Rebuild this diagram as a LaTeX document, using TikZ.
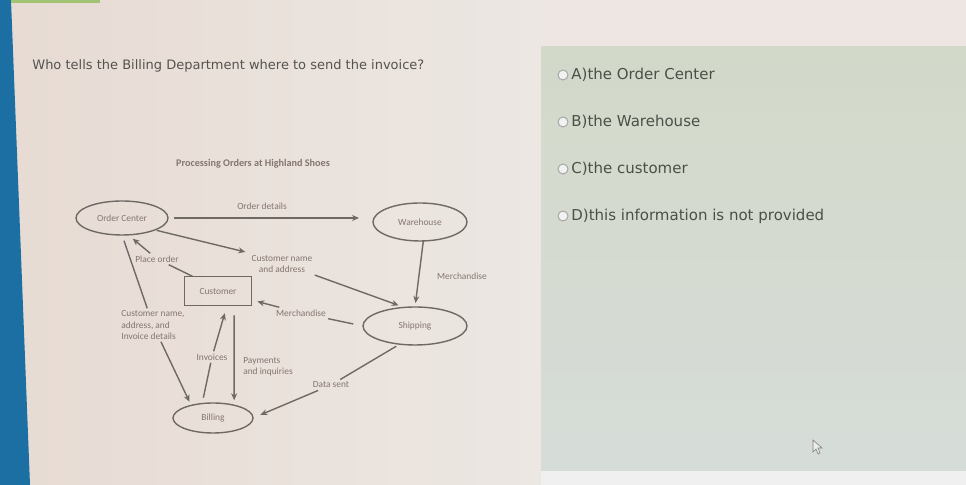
\documentclass[tikz,border=0pt]{standalone}
\usepackage{fontspec}
\setmainfont{DejaVu Sans}
\newfontfamily\diagfont{Carlito}
\usetikzlibrary{shapes.geometric,arrows.meta}

\definecolor{paperl}{HTML}{E7DBD3}
\definecolor{paperr}{HTML}{ECE7E3}
\definecolor{toppaper}{HTML}{EDE6E3}
\definecolor{paneltop}{HTML}{D3D9C9}
\definecolor{panelbot}{HTML}{D6DCD8}
\definecolor{deskblue}{HTML}{1C6FA3}
\definecolor{tabgreen}{HTML}{A3C374}
\definecolor{lineclr}{HTML}{6F6965}
\definecolor{textclr}{HTML}{85766F}
\definecolor{qtext}{HTML}{55524F}
\definecolor{atext}{HTML}{4B4F48}

\begin{document}
\begin{tikzpicture}[x=0.5pt,y=-0.5pt,
  bubble/.style={ellipse, draw=lineclr, line width=0.7pt, inner sep=0pt, outer sep=0pt,
    font=\diagfont\fontsize{4.7}{5.6}\selectfont, text=textclr},
  box/.style={rectangle, draw=lineclr, line width=0.7pt, inner sep=0pt, outer sep=0pt,
    minimum width=33.5pt, minimum height=14.5pt, font=\diagfont\fontsize{4.7}{5.6}\selectfont, text=textclr},
  lbl/.style={inner sep=1pt, align=center, font=\diagfont\fontsize{4.7}{5.6}\selectfont, text=textclr},
  link/.style={draw=lineclr, line width=0.7pt},
  flow/.style={link, -{Stealth[length=3.5pt,width=3pt]}},
  radio/.style={circle, draw=gray!70, fill=white!90!gray, line width=0.5pt, minimum size=5pt, inner sep=0pt},
  answer/.style={anchor=west, inner sep=0pt, font=\fontsize{7.5}{9}\selectfont, text=atext}]

\useasboundingbox (0,0) rectangle (966,485);

% screen background
\shade[left color=paperl, right color=paperr] (0,0) rectangle (541,485);
\fill[toppaper] (541,0) rectangle (966,47);
\shade[top color=paneltop, bottom color=panelbot] (541,47) rectangle (966,471);
\fill[white!88!gray] (541,471) rectangle (966,485);
\fill[deskblue] (0,0) -- (11,0) -- (30,485) -- (0,485) -- cycle;
\fill[tabgreen] (11,0) rectangle (100,3);

% question
\node[anchor=west, inner sep=0pt, font=\fontsize{6.5}{8}\selectfont, text=qtext] (question) at (32,66)
  {Who tells the Billing Department where to send the invoice?};

% diagram
\node[lbl, font=\diagfont\bfseries\fontsize{5.1}{6}\selectfont] (title) at (253,164) {Processing Orders at Highland Shoes};

\node[bubble, minimum width=46pt, minimum height=17pt] (oc) at (122,218) {Order Center};
\node[bubble, minimum width=47pt, minimum height=19pt] (wh) at (420,222) {Warehouse};
\node[bubble, minimum width=52pt, minimum height=19pt] (sh) at (415,326) {Shipping};
\node[bubble, minimum width=40pt, minimum height=15pt] (bill) at (213,418) {Billing};
\node[box] (cust) at (218,291) {Customer};

\node[lbl] (odetails) at (262,206) {Order details};
\node[lbl] (cname) at (282,264) {Customer name\\and address};
\node[lbl] (merch1) at (462,276) {Merchandise};
\node[lbl] (porder) at (157,259) {Place order};
\node[lbl, align=left] (cinfo) at (153,325) {Customer name,\\address, and\\Invoice details};
\node[lbl] (invoices) at (212,357) {Invoices};
\node[lbl, align=left] (payinq) at (268,367) {Payments\\and inquiries};
\node[lbl] (merch2) at (301,313) {Merchandise};
\node[lbl] (dsent) at (331,385) {Data sent};

\draw[flow, shorten <=3pt, shorten >=7pt] (oc.east) -- (oc.east -| wh.west);
\draw[flow, shorten >=2pt] (wh.-80) -- (sh.north);
\draw[flow, shorten <=1pt, shorten >=2pt] (oc.-20) -- (cname.north west);
\draw[flow, shorten >=3pt] (cname.south east) -- (sh.120);
\draw[link] (cust.150) -- (porder);
\draw[flow, shorten >=3pt] (porder) -- (oc.-70);
\draw[link, shorten <=3pt] (oc.south) -- (cinfo);
\draw[flow, shorten >=2pt] (cinfo) -- (bill.150);
\draw[link, shorten <=3pt] (bill.127) -- (invoices);
\draw[flow, shorten >=4pt] (invoices) -- (cust.-58);
\draw[flow, shorten <=5pt, shorten >=2.5pt] (cust.-42) -- (bill.31);
\draw[link, shorten <=5pt] (sh.west) -- (merch2);
\draw[flow, shorten >=3pt] (merch2) -- (cust.-15);
\draw[link, shorten <=2pt] (sh.-130) -- (dsent);
\draw[flow, shorten >=4pt] (dsent) -- (bill.east);

% answers
\foreach \y/\name/\txt in {75/ansa/A)the Order Center, 122/ansb/B)the Warehouse,
    169/ansc/C)the customer, 216/ansd/D)this information is not provided} {
  \node[radio] (\name-r) at (563,\y) {};
  \node[answer] (\name) at (571,\y) {\txt};
}

% pointer
\filldraw[fill=white!85!gray, draw=gray, line width=0.3pt] (813,440) -- (813,452) -- (816,449) -- (818,454)
  -- (820,453) -- (818,448) -- (822,448) -- cycle;
\end{tikzpicture}
\end{document}
